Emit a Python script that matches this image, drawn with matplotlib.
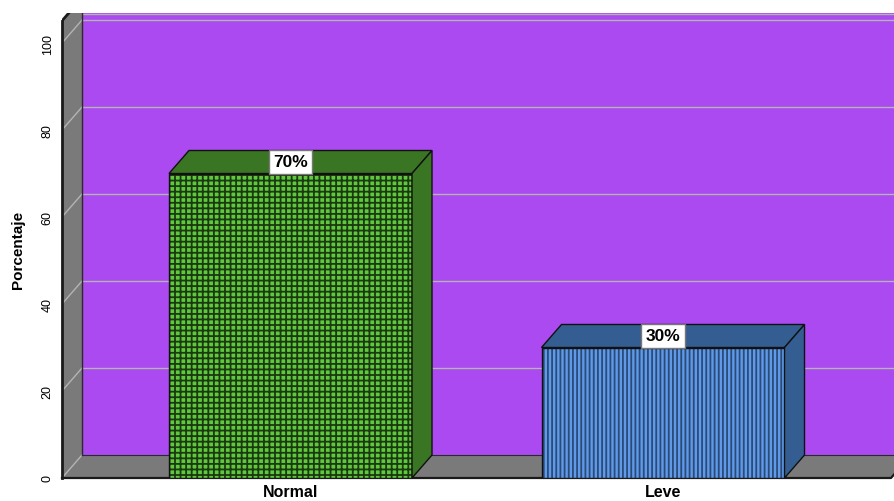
import matplotlib.pyplot as plt
from matplotlib.patches import Rectangle, Polygon

categorias = ['Normal', 'Leve']
porcentajes = [70, 30]
etiquetas = ['70%', '30%']
yticks = [0, 20, 40, 60, 80, 100]

plt.rcParams['font.family'] = ['Liberation Sans', 'DejaVu Sans']
plt.rcParams['hatch.linewidth'] = 1.3

fig = plt.figure(figsize=(8.94, 5.02), dpi=100)
ax = fig.add_axes([62 / 894, 23 / 502, 832 / 894, 465 / 502])

# scale: 372.5 px per category, 4.35 px per percent
xmin, xmax = -0.6134, 1.6201
ymax = 106.9
dx, dy = 20 / 372.5, 23 / 4.35
hw = 121.5 / 372.5
xfr = (891 - 290.5) / 372.5
wall_top = 105.1

ax.set_xlim(xmin, xmax)
ax.set_ylim(0, ymax)

purple = '#aa4af0'
gray = '#7a7a7a'
gridc = '#b4b4b4'

# back wall
ax.add_patch(Rectangle((xmin + dx, dy), xmax - xmin, 130, fc=purple, ec='none', zorder=0))
# left wall
ax.add_patch(Polygon([(xmin, 0), (xmin, wall_top), (xmin + dx, wall_top + dy), (xmin + dx, dy)],
                     fc=gray, ec='none', zorder=1))
# floor
ax.add_patch(Polygon([(xmin, 0), (xfr, 0), (xfr + dx, dy), (xmin + dx, dy)],
                     fc=gray, ec='none', zorder=1))

# grid lines
for v in yticks:
    ax.plot([xmin, xmin + dx], [v, v + dy], color=gridc, lw=1, zorder=2)
    if v > 0:
        ax.plot([xmin + dx, xmax], [v + dy, v + dy], color=gridc, lw=1, zorder=2)
ax.plot([xmin + dx, xmax], [ymax - 0.2, ymax - 0.2], color=gridc, lw=1, zorder=2)

# edges
ax.plot([xmin + dx, xmin + dx], [dy, ymax], color='#2a2a2a', lw=1, zorder=2)
ax.plot([xmin + dx, xfr + dx], [dy, dy], color='#2a2a2a', lw=0.8, zorder=2)
ax.plot([xmin, xmin], [0, wall_top], color='#1a1a1a', lw=2, zorder=3, clip_on=False)
ax.plot([xmin, xmin + dx], [wall_top, wall_top + dy], color='#1a1a1a', lw=2, zorder=3)
ax.plot([xmin, xfr, xfr + dx], [0, 0, dy], color='#1a1a1a', lw=1.6, zorder=3, clip_on=False)

estilos = [
    dict(front='#5fc83c', dark='#3a7523', hatch='+++', hc='#1c3a12'),
    dict(front='#5e9ae8', dark='#345e91', hatch='||||', hc='#2b4a78'),
]

for i, (v, st) in enumerate(zip(porcentajes, estilos)):
    x = i
    ax.add_patch(Rectangle((x - hw, 0), 2 * hw, v, fc=st['front'], ec='none', zorder=4))
    ax.add_patch(Rectangle((x - hw, 0), 2 * hw, v, fill=False, hatch=st['hatch'],
                           ec=st['hc'], lw=0, zorder=5))
    ax.add_patch(Rectangle((x - hw, 0), 2 * hw, v, fill=False, ec='#111111', lw=1, zorder=6))
    ax.add_patch(Polygon([(x - hw, v), (x + hw, v), (x + hw + dx, v + dy), (x - hw + dx, v + dy)],
                         fc=st['dark'], ec='#111111', lw=1, zorder=6))
    ax.add_patch(Polygon([(x + hw, 0), (x + hw + dx, dy), (x + hw + dx, v + dy), (x + hw, v)],
                         fc=st['dark'], ec='#111111', lw=1, zorder=6))
    ax.annotate(etiquetas[i], xy=(x, v), xytext=(0, 3.0), textcoords='offset points',
                ha='center', va='bottom', fontsize=12.5, fontweight='bold', zorder=7,
                bbox=dict(boxstyle='square,pad=0.24', fc='white', ec='#777777', lw=1))

for s in ax.spines.values():
    s.set_visible(False)

ax.set_yticks(yticks)
ax.set_yticklabels([str(t) for t in yticks], rotation=90, va='center', fontsize=9)
ax.tick_params(axis='y', length=0, pad=6)
ax.set_xticks(range(len(categorias)))
ax.set_xticklabels(categorias, fontsize=11.5, fontweight='bold')
ax.tick_params(axis='x', length=0, pad=4)

fig.text(18 / 894, 1 - 250 / 502, 'Porcentaje', rotation=90, ha='center', va='center',
         fontsize=11, fontweight='bold')

fig.savefig('out.png', dpi=100)
